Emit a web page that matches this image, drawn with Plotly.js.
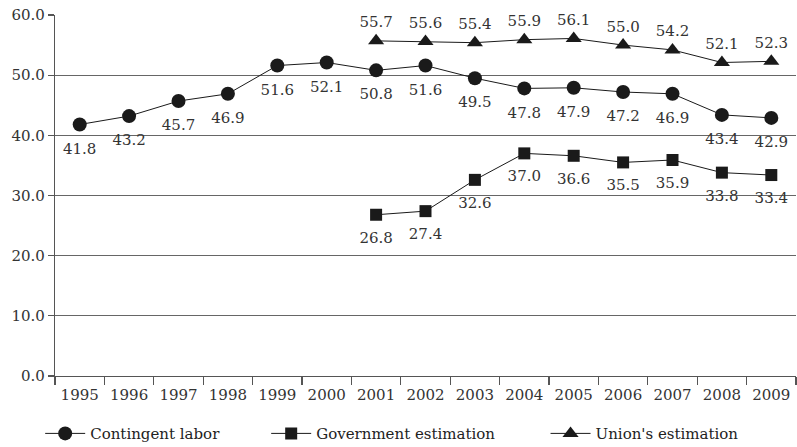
<!DOCTYPE html>
<html><head><meta charset="utf-8">
<script src="https://cdn.plot.ly/plotly-3.0.1.min.js"></script>
<style>body{margin:0;background:#fff}#c{width:797px;height:447px}</style>
</head><body><div id="c"></div>
<script>
const years = ['1995','1996','1997','1998','1999','2000','2001','2002','2003','2004','2005','2006','2007','2008','2009'];
const contingent = [41.8,43.2,45.7,46.9,51.6,52.1,50.8,51.6,49.5,47.8,47.9,47.2,46.9,43.4,42.9];
const government = [null,null,null,null,null,null,26.8,27.4,32.6,37.0,36.6,35.5,35.9,33.8,33.4];
const unions = [null,null,null,null,null,null,55.7,55.6,55.4,55.9,56.1,55.0,54.2,52.1,52.3];
const yTicks = [0,10,20,30,40,50,60];

const FONT = 'DejaVu Serif, serif';
const INK = '#1a1a1a';
function tr(name, y, sym, size, leg){
  return {x: years, y: y, name: name, type:'scatter', mode:'lines+markers',
    line:{color:INK, width:1}, marker:{symbol:sym, size:size, color:INK},
    cliponaxis:false, connectgaps:false, legend: leg, hoverinfo:'skip'};
}
function lab(y, pos, gap){
  return {x: years, y: y, type:'scatter', mode:'markers+text', showlegend:false,
    marker:{size:gap, opacity:0}, text: y.map(v => v==null ? '' : v.toFixed(1)),
    textposition: pos, textfont:{family:FONT, size:15, color:'#333'}, cliponaxis:false, hoverinfo:'skip'};
}
const data = [
  tr('Contingent labor', contingent, 'circle', 14, 'legend'),
  tr('Government estimation', government, 'square', 12, 'legend2'),
  tr("Union's estimation", unions, 'triangle-up', 14, 'legend3'),
  lab(contingent, 'bottom center', 27),
  lab(government, 'bottom center', 25),
  lab(unions, 'top center', 14)
];
const legBase = {orientation:'h', yanchor:'top', y:-0.114, font:{family:FONT, size:15, color:'#222'}, bgcolor:'rgba(0,0,0,0)', itemwidth:40};
const layout = {
  width:797, height:447, margin:{l:55, r:1, t:15, b:71, autoexpand:false},
  paper_bgcolor:'#fff', plot_bgcolor:'#fff',
  font:{family:FONT, size:15, color:'#333'},
  showlegend:true,
  legend: Object.assign({}, legBase, {x:-0.02}),
  legend2: Object.assign({}, legBase, {x:0.285}),
  legend3: Object.assign({}, legBase, {x:0.662}),
  xaxis:{type:'category', range:[-0.5, 14.5], tickson:'boundaries', ticks:'outside', ticklen:8, tickcolor:'#555', tickwidth:1.2,
    tickangle:0, automargin:false, ticklabelstandoff:5,
    showgrid:false, showline:true, linecolor:'#555', linewidth:1.2, zeroline:false,
    tickfont:{family:FONT, size:15, color:'#333'}, fixedrange:true},
  yaxis:{range:[0,60], tickvals:yTicks, ticktext:yTicks.map(v=>v.toFixed(1)), ticks:'outside', ticklen:6,
    automargin:false,
    tickcolor:'#555', tickwidth:1.2, showgrid:true, gridcolor:'#666', gridwidth:1.2,
    showline:true, linecolor:'#555', linewidth:1.2, zeroline:false,
    tickfont:{family:FONT, size:15, color:'#333'}, fixedrange:true}
};
Plotly.newPlot('c', data, layout, {staticPlot:true});
</script></body></html>
